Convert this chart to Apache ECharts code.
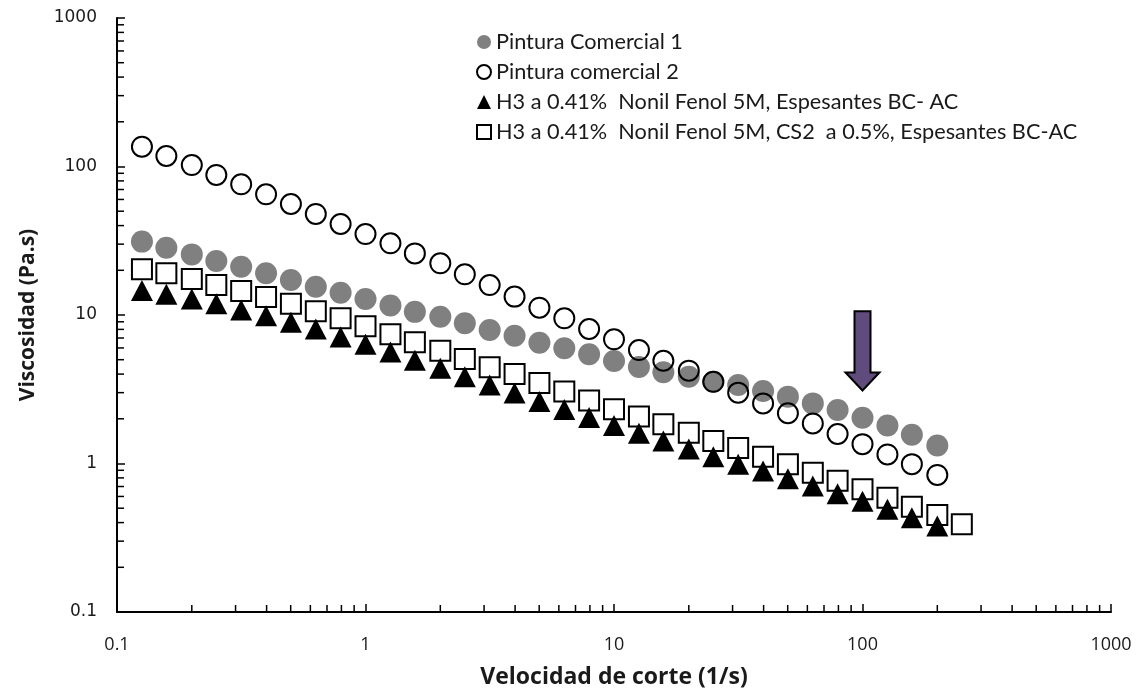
<!DOCTYPE html>
<html>
<head>
<meta charset="utf-8">
<title>Viscosidad vs velocidad de corte</title>
<script src="https://cdn.jsdelivr.net/npm/echarts@6/dist/echarts.min.js"></script>
<style>
  html, body { margin: 0; padding: 0; background: #fff; }
  #chart { width: 1145px; height: 698px; }
</style>
</head>
<body>
<div id="chart"></div>
<script>
// Shear rate (1/s), 10 points per decade
const shearRate = [0.126, 0.158, 0.2, 0.251, 0.316, 0.398, 0.501, 0.631, 0.794, 1,
  1.26, 1.58, 2, 2.51, 3.16, 3.98, 5.01, 6.31, 7.94, 10,
  12.6, 15.8, 20, 25.1, 31.6, 39.8, 50.1, 63.1, 79.4, 100,
  126, 158, 200, 251];

// Viscosity (Pa.s)
const pintura1 = [31.2, 28.4, 25.6, 23.1, 21.1, 19.1, 17.2, 15.5, 14.1, 12.8,
  11.6, 10.5, 9.74, 8.79, 7.93, 7.25, 6.51, 5.97, 5.44, 4.90,
  4.46, 4.11, 3.84, 3.55, 3.38, 3.08, 2.82, 2.54, 2.29, 2.03,
  1.80, 1.56, 1.32];
const pintura2 = [135.9, 117.7, 102.3, 87.7, 75.9, 65.0, 55.9, 47.9, 41.0, 35.1,
  30.4, 26.0, 22.3, 18.8, 15.9, 13.3, 11.2, 9.50, 8.05, 6.86,
  5.81, 4.92, 4.22, 3.55, 3.00, 2.54, 2.18, 1.86, 1.58, 1.35,
  1.15, 0.99, 0.837];
const h3Espesantes = [14.6, 13.8, 12.8, 11.9, 10.8, 9.89, 8.93, 8.05, 7.11, 6.36,
  5.63, 4.95, 4.38, 3.84, 3.38, 2.98, 2.62, 2.31, 2.04, 1.80,
  1.60, 1.42, 1.25, 1.11, 0.99, 0.890, 0.790, 0.706, 0.626, 0.556,
  0.492, 0.431, 0.379];
const h3Cs2 = [20.3, 19.1, 17.5, 15.9, 14.5, 13.2, 11.9, 10.6, 9.50, 8.39,
  7.41, 6.55, 5.75, 5.05, 4.44, 4.01, 3.49, 3.05, 2.66, 2.32,
  2.07, 1.84, 1.61, 1.42, 1.27, 1.11, 0.99, 0.867, 0.766, 0.670,
  0.589, 0.512, 0.450, 0.390];

const seriesNames = [
  'Pintura Comercial 1',
  'Pintura comercial 2',
  'H3 a 0.41%  Nonil Fenol 5M, Espesantes BC- AC',
  'H3 a 0.41%  Nonil Fenol 5M, CS2  a 0.5%, Espesantes BC-AC'
];

// Axis ranges and minor tick values (log axes)
const xRange = [0.1, 1000];
const yRange = [0.1, 1000];
const xMinorTicks = [0.2, 0.3, 0.4, 0.5, 0.6, 0.7, 0.8, 0.9,
  2, 3, 4, 5, 6, 7, 8, 9, 20, 30, 40, 50, 60, 70, 80, 90,
  200, 300, 400, 500, 600, 700, 800, 900];
const yMinorTicks = xMinorTicks;

// Annotation arrow (shear rate, viscosity from -> to)
const arrowAt = 100;
const arrowFrom = 10.6;
const arrowTo = 3.1;

function pair(xs, ys) {
  return ys.map((y, i) => [xs[i], y]);
}

// plain decimal labels, no thousands separator
function plainLabel(v) {
  return String(+v.toPrecision(6));
}

const chart = echarts.init(document.getElementById('chart'), null, { renderer: 'canvas' });

const textFont = '"Open Sans", Lato, sans-serif';
const legendFont = 'Lato, "Open Sans", sans-serif';

chart.setOption({
  animation: false,
  backgroundColor: '#ffffff',
  grid: { left: 117, right: 34, top: 18, bottom: 86, containLabel: false },
  legend: {
    orient: 'vertical',
    left: 476,
    top: 31,
    padding: 0,
    itemWidth: 14,
    itemHeight: 14,
    itemGap: 8,
    data: seriesNames,
    selectedMode: false,
    textStyle: { fontFamily: legendFont, fontSize: 21.7, color: '#1a1a1a' }
  },
  xAxis: {
    type: 'log',
    logBase: 10,
    min: xRange[0],
    max: xRange[1],
    name: 'Velocidad de corte (1/s)',
    nameLocation: 'middle',
    nameGap: 54,
    nameTextStyle: { fontFamily: textFont, fontWeight: 'bold', fontSize: 23, color: '#1a1a1a' },
    axisLine: { onZero: false, lineStyle: { color: '#000', width: 2 } },
    axisTick: { inside: true, length: 8, lineStyle: { color: '#000', width: 1.5 } },
    axisLabel: { fontFamily: textFont, fontSize: 18, color: '#1a1a1a', margin: 24, formatter: plainLabel },
    splitLine: { show: false }
  },
  yAxis: {
    type: 'log',
    logBase: 10,
    min: yRange[0],
    max: yRange[1],
    name: 'Viscosidad (Pa.s)',
    nameLocation: 'middle',
    nameGap: 78,
    nameRotate: 90,
    nameTextStyle: { fontFamily: textFont, fontWeight: 'bold', fontSize: 21, color: '#1a1a1a' },
    axisLine: { onZero: false, lineStyle: { color: '#000', width: 2 } },
    axisTick: { inside: true, length: 8, lineStyle: { color: '#000', width: 1.5 } },
    axisLabel: { fontFamily: '"DejaVu Sans", sans-serif', fontSize: 17, color: '#1a1a1a', margin: 20, formatter: plainLabel },
    splitLine: { show: false }
  },
  series: [
    {
      name: seriesNames[0],
      type: 'scatter',
      symbol: 'circle',
      symbolSize: 22,
      itemStyle: { color: '#808080', opacity: 1 },
      data: pair(shearRate, pintura1),
      z: 2
    },
    {
      name: seriesNames[1],
      type: 'scatter',
      symbol: 'circle',
      symbolSize: 20,
      itemStyle: { color: 'rgba(255,255,255,0)', borderColor: '#000', borderWidth: 2, opacity: 1 },
      data: pair(shearRate, pintura2),
      z: 3
    },
    {
      name: seriesNames[3],
      type: 'scatter',
      symbol: 'rect',
      symbolSize: 20,
      itemStyle: { color: 'rgba(255,255,255,0)', borderColor: '#000', borderWidth: 2, opacity: 1 },
      data: pair(shearRate, h3Cs2),
      z: 3
    },
    {
      name: seriesNames[2],
      type: 'scatter',
      symbol: 'triangle',
      symbolSize: [22, 21],
      itemStyle: { color: '#000', opacity: 1 },
      data: pair(shearRate, h3Espesantes),
      z: 4
    },
    {
      // minor ticks along the x axis, pointing into the plot
      type: 'custom',
      silent: true,
      clip: false,
      data: xMinorTicks.map(v => [v, yRange[0]]),
      renderItem: function (params, api) {
        const p = api.coord([api.value(0), api.value(1)]);
        return {
          type: 'line',
          shape: { x1: p[0], y1: p[1], x2: p[0], y2: p[1] - 7 },
          style: { stroke: '#000', lineWidth: 1.5 }
        };
      },
      z: 5
    },
    {
      // minor ticks along the y axis, pointing into the plot
      type: 'custom',
      silent: true,
      clip: false,
      data: yMinorTicks.map(v => [xRange[0], v]),
      renderItem: function (params, api) {
        const p = api.coord([api.value(0), api.value(1)]);
        return {
          type: 'line',
          shape: { x1: p[0], y1: p[1], x2: p[0] + 7, y2: p[1] },
          style: { stroke: '#000', lineWidth: 1.5 }
        };
      },
      z: 5
    },
    {
      // downward arrow marking the region of interest
      type: 'custom',
      silent: true,
      clip: false,
      data: [[arrowAt, arrowFrom, arrowTo]],
      renderItem: function (params, api) {
        const top = api.coord([api.value(0), api.value(1)]);
        const tip = api.coord([api.value(0), api.value(2)]);
        const cx = tip[0];
        const shaftHalf = 8;
        const headHalf = 17;
        const headLen = 18;
        const neck = tip[1] - headLen;
        return {
          type: 'polygon',
          shape: {
            points: [
              [cx - shaftHalf, top[1]], [cx + shaftHalf, top[1]],
              [cx + shaftHalf, neck], [cx + headHalf, neck],
              [cx, tip[1]],
              [cx - headHalf, neck], [cx - shaftHalf, neck]
            ]
          },
          style: { fill: '#5f4b7c', stroke: '#000', lineWidth: 2 }
        };
      },
      z: 6
    }
  ]
});
</script>
</body>
</html>
